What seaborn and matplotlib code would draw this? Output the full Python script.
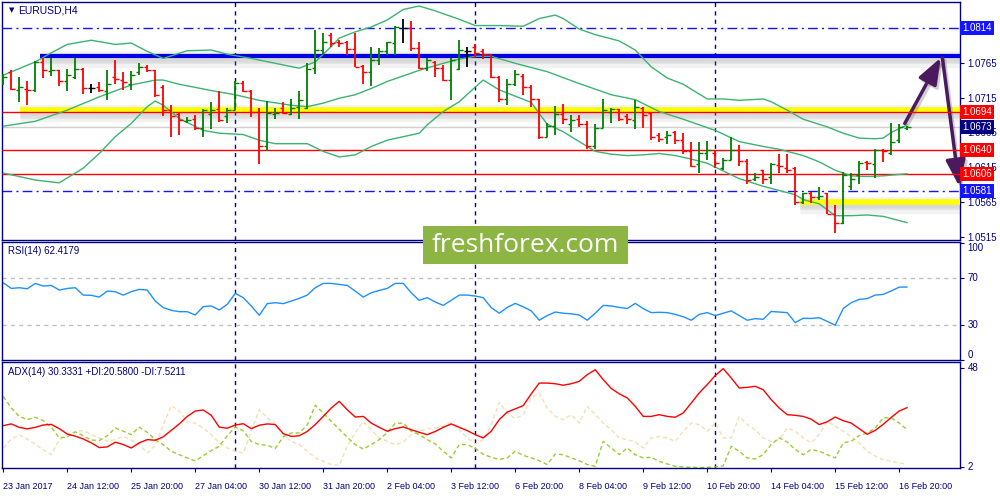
import numpy as np
import matplotlib
matplotlib.use("Agg")
import matplotlib.pyplot as plt
import matplotlib.patheffects as pe
import matplotlib.transforms as mtransforms
from matplotlib.patches import Rectangle
import seaborn as sns

sns.set_theme(style="white")
plt.rcParams['font.family'] = ['Liberation Sans', 'DejaVu Sans']

NAVY = '#000080'

# ---- EURUSD H4 bars (open / high / low / close) ----
opens = [1.0738, 1.0752, 1.0726, 1.0727, 1.0726, 1.0766, 1.0753, 1.0754, 1.0739, 1.0745,
         1.0756, 1.0728, 1.0730, 1.0725, 1.0745, 1.0740, 1.0735, 1.0752, 1.0759, 1.0754,
         1.0730, 1.0697, 1.0692, 1.0681, 1.0685, 1.0671, 1.0692, 1.0699, 1.0688, 1.0697,
         1.0736, 1.0725, 1.0695, 1.0645, 1.0691, 1.0700, 1.0691, 1.0702, 1.0700, 1.0757,
         1.0783, 1.0805, 1.0795, 1.0795, 1.0784, 1.0760, 1.0751, 1.0769, 1.0781, 1.0793,
         1.0814, 1.0814, 1.0786, 1.0757, 1.0766, 1.0757, 1.0740, 1.0756, 1.0781, 1.0788,
         1.0781, 1.0777, 1.0745, 1.0713, 1.0735, 1.0746, 1.0730, 1.0713, 1.0659, 1.0675,
         1.0692, 1.0677, 1.0685, 1.0677, 1.0645, 1.0671, 1.0695, 1.0698, 1.0688, 1.0683,
         1.0700, 1.0693, 1.0661, 1.0659, 1.0665, 1.0654, 1.0638, 1.0620, 1.0635, 1.0635,
         1.0614, 1.0626, 1.0640, 1.0624, 1.0598, 1.0611, 1.0602, 1.0618, 1.0614, 1.0614,
         1.0565, 1.0579, 1.0573, 1.0578, 1.0548, 1.0535, 1.0588, 1.0604, 1.0623, 1.0620,
         1.0640, 1.0635, 1.0654, 1.0672]
highs = [1.0749, 1.0754, 1.0744, 1.0739, 1.0768, 1.0771, 1.0771, 1.0755, 1.0756, 1.0772,
         1.0757, 1.0734, 1.0737, 1.0754, 1.0769, 1.0752, 1.0753, 1.0765, 1.0762, 1.0755,
         1.0733, 1.0704, 1.0695, 1.0687, 1.0690, 1.0699, 1.0709, 1.0725, 1.0700, 1.0738,
         1.0739, 1.0726, 1.0700, 1.0710, 1.0700, 1.0708, 1.0713, 1.0725, 1.0765, 1.0812,
         1.0808, 1.0807, 1.0798, 1.0796, 1.0807, 1.0762, 1.0788, 1.0786, 1.0794, 1.0818,
         1.0827, 1.0824, 1.0795, 1.0771, 1.0767, 1.0762, 1.0771, 1.0797, 1.0788, 1.0791,
         1.0784, 1.0778, 1.0746, 1.0742, 1.0754, 1.0749, 1.0733, 1.0713, 1.0678, 1.0703,
         1.0706, 1.0690, 1.0690, 1.0681, 1.0677, 1.0713, 1.0700, 1.0698, 1.0692, 1.0711,
         1.0702, 1.0693, 1.0664, 1.0667, 1.0667, 1.0664, 1.0651, 1.0652, 1.0653, 1.0638,
         1.0629, 1.0659, 1.0647, 1.0627, 1.0607, 1.0611, 1.0622, 1.0634, 1.0634, 1.0616,
         1.0579, 1.0580, 1.0587, 1.0579, 1.0561, 1.0608, 1.0607, 1.0624, 1.0624, 1.0641,
         1.0641, 1.0679, 1.0677, 1.0675]
lows = [1.0733, 1.0726, 1.0708, 1.0705, 1.0723, 1.0743, 1.0746, 1.0732, 1.0725, 1.0742,
        1.0720, 1.0721, 1.0723, 1.0711, 1.0735, 1.0726, 1.0726, 1.0747, 1.0752, 1.0716,
        1.0688, 1.0658, 1.0661, 1.0678, 1.0669, 1.0658, 1.0670, 1.0680, 1.0678, 1.0697,
        1.0723, 1.0687, 1.0620, 1.0639, 1.0684, 1.0692, 1.0690, 1.0684, 1.0698, 1.0749,
        1.0776, 1.0788, 1.0788, 1.0776, 1.0758, 1.0735, 1.0731, 1.0761, 1.0776, 1.0776,
        1.0793, 1.0782, 1.0756, 1.0753, 1.0744, 1.0738, 1.0712, 1.0754, 1.0758, 1.0771,
        1.0770, 1.0743, 1.0708, 1.0705, 1.0731, 1.0719, 1.0701, 1.0655, 1.0658, 1.0662,
        1.0677, 1.0666, 1.0673, 1.0642, 1.0642, 1.0671, 1.0678, 1.0682, 1.0677, 1.0670,
        1.0672, 1.0654, 1.0652, 1.0649, 1.0649, 1.0634, 1.0615, 1.0607, 1.0625, 1.0614,
        1.0611, 1.0626, 1.0617, 1.0592, 1.0596, 1.0592, 1.0591, 1.0607, 1.0607, 1.0561,
        1.0563, 1.0564, 1.0568, 1.0549, 1.0521, 1.0534, 1.0583, 1.0592, 1.0611, 1.0600,
        1.0623, 1.0633, 1.0650, 1.0669]
closes = [1.0745, 1.0727, 1.0730, 1.0726, 1.0766, 1.0754, 1.0755, 1.0739, 1.0747, 1.0756,
          1.0728, 1.0728, 1.0726, 1.0735, 1.0742, 1.0737, 1.0747, 1.0758, 1.0754, 1.0719,
          1.0697, 1.0688, 1.0683, 1.0683, 1.0671, 1.0697, 1.0697, 1.0683, 1.0697, 1.0736,
          1.0725, 1.0695, 1.0646, 1.0693, 1.0693, 1.0693, 1.0700, 1.0712, 1.0756, 1.0783,
          1.0795, 1.0793, 1.0793, 1.0784, 1.0759, 1.0751, 1.0769, 1.0781, 1.0794, 1.0816,
          1.0814, 1.0786, 1.0757, 1.0769, 1.0757, 1.0740, 1.0769, 1.0783, 1.0781, 1.0779,
          1.0778, 1.0745, 1.0713, 1.0735, 1.0749, 1.0730, 1.0713, 1.0659, 1.0675, 1.0691,
          1.0684, 1.0683, 1.0677, 1.0645, 1.0671, 1.0697, 1.0698, 1.0685, 1.0684, 1.0702,
          1.0690, 1.0658, 1.0655, 1.0661, 1.0654, 1.0638, 1.0617, 1.0635, 1.0640, 1.0621,
          1.0626, 1.0640, 1.0624, 1.0597, 1.0601, 1.0598, 1.0620, 1.0617, 1.0612, 1.0566,
          1.0578, 1.0573, 1.0574, 1.0549, 1.0535, 1.0604, 1.0599, 1.0621, 1.0621, 1.0640,
          1.0639, 1.0652, 1.0673, 1.0673]

# ---- Bollinger bands (read at sample bars) ----
upper_idx = [0, 4, 6, 8, 11, 14, 16, 18, 20, 23, 26, 28, 31, 34, 37, 39, 41, 42, 44, 46,
             48, 50, 52, 54, 57, 59, 62, 65, 67, 69, 70, 72, 74, 77, 79, 81, 83, 85, 88, 90,
             92, 95, 96, 98, 100, 103, 105, 107, 109, 110, 111, 113]
upper_vals = [1.0747, 1.0766, 1.0779, 1.0791, 1.0797, 1.0791, 1.0793, 1.0781, 1.0771, 1.0782,
              1.0783, 1.0777, 1.0771, 1.0764, 1.0757, 1.0766, 1.0788, 1.0800, 1.0809, 1.0816,
              1.0826, 1.0841, 1.0846, 1.0839, 1.0827, 1.0818, 1.0818, 1.0817, 1.0828, 1.0833,
              1.0828, 1.0813, 1.0805, 1.0796, 1.0783, 1.0759, 1.0743, 1.0734, 1.0713, 1.0713,
              1.0711, 1.0713, 1.0709, 1.0697, 1.0684, 1.0673, 1.0664, 1.0657, 1.0656, 1.0657,
              1.0665, 1.0676]
middle_idx = [0, 4, 8, 12, 16, 19, 20, 22, 26, 29, 32, 36, 38, 40, 42, 44, 46, 48, 50, 52,
              55, 57, 59, 61, 64, 68, 72, 76, 79, 82, 85, 89, 92, 95, 97, 100, 102, 104, 106, 108,
              110, 113]
middle_vals = [1.0674, 1.0681, 1.0697, 1.0716, 1.0733, 1.0740, 1.0740, 1.0734, 1.0725, 1.0719,
               1.0711, 1.0704, 1.0702, 1.0707, 1.0714, 1.0719, 1.0728, 1.0738, 1.0746, 1.0754,
               1.0764, 1.0770, 1.0774, 1.0774, 1.0764, 1.0752, 1.0735, 1.0719, 1.0712, 1.0695,
               1.0684, 1.0668, 1.0652, 1.0645, 1.0641, 1.0632, 1.0623, 1.0611, 1.0603, 1.0602,
               1.0603, 1.0606]
lower_idx = [0, 4, 7, 8, 10, 12, 14, 16, 18, 19, 20, 22, 25, 27, 30, 32, 34, 38, 40, 42,
             44, 46, 48, 50, 52, 53, 55, 57, 59, 60, 62, 64, 66, 67, 68, 70, 72, 74, 76, 78,
             80, 82, 84, 86, 88, 90, 92, 95, 97, 99, 100, 102, 104, 106, 108, 110, 113]
lower_vals = [1.0607, 1.0597, 1.0593, 1.0600, 1.0614, 1.0635, 1.0659, 1.0678, 1.0702, 1.0710,
              1.0704, 1.0685, 1.0668, 1.0664, 1.0662, 1.0654, 1.0649, 1.0649, 1.0638, 1.0630,
              1.0633, 1.0645, 1.0654, 1.0659, 1.0664, 1.0676, 1.0695, 1.0709, 1.0730, 1.0740,
              1.0726, 1.0717, 1.0708, 1.0692, 1.0677, 1.0666, 1.0652, 1.0638, 1.0634, 1.0632,
              1.0633, 1.0635, 1.0632, 1.0627, 1.0621, 1.0610, 1.0599, 1.0588, 1.0582, 1.0576,
              1.0569, 1.0563, 1.0546, 1.0546, 1.0547, 1.0545, 1.0536]

# ---- RSI(14) ----
rsi = [66.0, 61.2, 61.8, 60.9, 65.5, 63.2, 63.8, 59.8, 61.2, 61.8, 55.5, 55.3, 53.8, 58.9, 58.4,
       55.5, 58.4, 60.4, 59.8, 50.4, 44.8, 42.5, 41.3, 41.3, 38.5, 45.6, 46.2, 42.8, 47.6, 57.0,
       53.3, 46.2, 38.2, 48.2, 49.0, 48.2, 50.4, 52.7, 55.5, 61.8, 65.5, 65.5, 64.6, 63.8, 58.9,
       53.8, 57.5, 59.5, 61.2, 65.5, 65.5, 57.5, 51.0, 53.3, 49.6, 46.7, 51.0, 55.5, 55.5, 54.7,
       53.3, 44.8, 40.0, 45.0, 48.4, 45.5, 42.0, 34.0, 38.0, 41.0, 40.0, 39.5, 38.5, 34.0, 40.0,
       46.7, 46.2, 45.0, 44.0, 48.4, 44.0, 40.5, 40.8, 40.5, 39.0, 37.0, 34.0, 39.0, 40.5, 38.0,
       40.0, 42.0, 38.0, 34.0, 35.4, 34.8, 41.5, 41.0, 40.5, 32.0, 35.7, 35.5, 36.2, 33.0, 29.7,
       44.0, 49.0, 51.8, 52.5, 55.5, 56.1, 59.0, 62.3, 62.4]

# ---- ADX(14), +DI, -DI ----
adx = [21.2, 22.0, 20.4, 19.7, 20.4, 21.5, 21.8, 19.8, 17.3, 16.3, 15.0, 13.2, 11.0, 11.3, 13.5,
       12.4, 10.8, 13.2, 14.7, 14.4, 16.0, 19.0, 22.0, 25.5, 28.0, 28.5, 26.0, 20.5, 20.0, 21.5,
       22.1, 19.8, 21.4, 22.0, 21.7, 17.5, 16.2, 16.5, 18.5, 21.7, 25.5, 29.4, 32.5, 28.6, 25.2,
       25.5, 22.4, 20.4, 18.6, 19.8, 20.6, 19.3, 18.1, 17.0, 18.5, 20.4, 22.0, 20.4, 18.9, 17.0,
       15.5, 18.6, 24.0, 27.5, 29.0, 30.5, 36.0, 41.0, 41.0, 40.7, 40.0, 40.7, 41.8, 44.9, 47.2,
       42.6, 38.5, 36.0, 34.1, 30.2, 25.5, 25.5, 26.3, 25.5, 25.1, 27.1, 31.7, 36.4, 40.3, 44.5,
       47.7, 43.4, 38.7, 39.0, 39.5, 37.9, 33.3, 29.4, 26.3, 26.0, 25.5, 24.2, 21.7, 23.0, 25.2,
       23.5, 22.4, 19.8, 17.2, 19.0, 21.8, 25.0, 28.0, 29.6]
plus_di = [34.8, 29.4, 25.5, 24.0, 25.1, 23.5, 20.5, 15.5, 16.0, 18.3, 16.5, 14.5, 14.3, 16.5, 20.1,
           18.6, 17.0, 20.5, 18.1, 14.7, 12.4, 9.3, 7.7, 6.2, 4.8, 7.2, 9.6, 11.6, 16.5, 20.5,
           18.8, 13.8, 12.4, 12.1, 10.6, 16.0, 17.8, 17.8, 21.5, 30.7, 27.1, 23.2, 19.5, 15.8, 12.4,
           10.3, 12.4, 14.7, 18.0, 22.3, 22.4, 18.6, 17.0, 14.7, 12.7, 9.3, 6.2, 12.4, 12.4, 10.6,
           7.9, 6.5, 5.5, 6.2, 9.3, 7.4, 6.2, 4.9, 3.1, 8.0, 7.7, 6.2, 4.9, 3.1, 2.3,
           13.9, 10.8, 7.7, 10.8, 7.7, 6.2, 6.5, 4.6, 3.4, 2.3, 2.0, 1.8, 1.7, 1.8, 2.0,
           2.5, 11.6, 9.3, 6.2, 5.7, 7.7, 12.4, 15.5, 13.6, 10.1, 7.7, 10.1, 9.3, 7.7, 6.2,
           13.2, 13.9, 16.6, 17.8, 20.1, 24.8, 24.8, 22.4, 19.3]
minus_di = [10.8, 15.0, 16.8, 15.0, 12.5, 10.0, 7.7, 14.7, 17.0, 18.5, 18.9, 17.0, 15.5, 13.9, 14.7,
            16.2, 14.5, 12.4, 8.5, 12.0, 21.5, 30.5, 28.0, 22.8, 22.4, 20.1, 17.0, 13.2, 10.8, 9.3,
            8.5, 18.6, 28.6, 24.8, 21.7, 17.0, 13.9, 12.4, 9.3, 6.2, 4.6, 3.1, 2.8, 11.6, 18.0,
            23.2, 19.3, 15.5, 13.9, 12.4, 13.6, 17.0, 18.6, 19.8, 20.1, 20.9, 22.8, 19.3, 15.5, 12.7,
            14.7, 21.7, 32.0, 27.1, 24.5, 26.3, 34.1, 36.4, 29.4, 25.5, 24.0, 26.3, 22.4, 30.2, 26.3,
            22.4, 19.3, 15.5, 14.7, 13.6, 10.8, 15.5, 16.2, 15.5, 13.9, 18.6, 22.4, 21.7, 18.6, 22.4,
            15.5, 15.5, 25.5, 21.7, 19.3, 15.5, 13.9, 14.7, 20.1, 18.6, 15.5, 13.2, 17.0, 23.2, 20.9,
            18.6, 16.2, 13.2, 9.3, 7.0, 5.4, 4.6, 3.9, 3.1]

# ---- levels, separators, axis labels ----
resistance_blue = 1.0775
zone_yellow_top = 1.0697
zone_yellow_low = 1.0566
red_levels = [1.0694, 1.0640, 1.0606]
dashdot_levels = [1.0814, 1.0581]
last_price = 1.0673
level_boxes = [(1.0814, '#1414FF'), (1.0694, '#FF0000'), (1.0673, NAVY),
               (1.0640, '#FF0000'), (1.0606, '#FF0000'), (1.0581, '#1414FF')]
price_ticks = [1.0765, 1.0715, 1.0665, 1.0615, 1.0565, 1.0515]
week_starts = [29, 59, 89]
time_labels = ['23 Jan 2017', '24 Jan 12:00', '25 Jan 20:00', '27 Jan 04:00', '30 Jan 12:00',
               '31 Jan 20:00', '2 Feb 04:00', '3 Feb 12:00', '6 Feb 20:00', '8 Feb 04:00',
               '9 Feb 12:00', '10 Feb 20:00', '14 Feb 04:00', '15 Feb 12:00', '16 Feb 20:00']
time_label_pos = list(range(0, 8 * len(time_labels), 8))

bars = np.arange(len(closes))
XLIM = (-0.16, 119.6)

fig = plt.figure(figsize=(10, 5), dpi=100)
ax_p = fig.add_axes([0.002, 0.52, 0.958, 0.476])
ax_r = fig.add_axes([0.002, 0.28, 0.958, 0.236])
ax_a = fig.add_axes([0.002, 0.064, 0.958, 0.212])

for ax in (ax_p, ax_r, ax_a):
    ax.set_xlim(*XLIM)
    ax.set_facecolor('white')
    for s in ax.spines.values():
        s.set_color(NAVY)
        s.set_linewidth(1)
    for w in week_starts:
        ax.axvline(w, color=NAVY, lw=1, ls=(0, (3, 3)), zorder=1)
    ax.yaxis.tick_right()
    ax.tick_params(axis='y', colors=NAVY, labelsize=7, length=3, width=0.8, pad=2,
                   direction='out', right=True, left=False)
    ax.set_xlabel('')
    ax.set_ylabel('')

# ---- price panel ----
ax_p.set_ylim(1.05112, 1.08517)
# soft grey shadow under the drawn levels
shadow = [pe.SimpleLineShadow(offset=(0, -3), shadow_color='0.5', alpha=0.10, linewidth=11),
          pe.SimpleLineShadow(offset=(0, -2.5), shadow_color='0.5', alpha=0.14, linewidth=7),
          pe.SimpleLineShadow(offset=(0, 0), shadow_color='0.6', alpha=0.10, linewidth=8),
          pe.Normal()]
ax_p.hlines(dashdot_levels, XLIM[0], XLIM[1], colors='#1414FF', lw=1,
            linestyles=[(0, (7, 3, 1.5, 3))], zorder=2)
ax_p.axhline(last_price, color='#CFCFCF', lw=1, zorder=2)
ax_p.plot([4.6, XLIM[1]], [resistance_blue] * 2, color='#0000E6', lw=3.0,
          solid_capstyle='butt', path_effects=shadow, zorder=3)
ax_p.plot([2.1, XLIM[1]], [zone_yellow_top] * 2, color='#FFFF00', lw=4,
          solid_capstyle='butt', path_effects=shadow, zorder=3)
ax_p.plot([99.6, XLIM[1]], [zone_yellow_low] * 2, color='#FFFF00', lw=4,
          solid_capstyle='butt', path_effects=shadow, zorder=3)
ax_p.hlines(red_levels, XLIM[0], XLIM[1], colors='#FF0000', lw=1, zorder=4)

for idx, vals in ((upper_idx, upper_vals), (middle_idx, middle_vals), (lower_idx, lower_vals)):
    sns.lineplot(x=idx, y=vals, ax=ax_p, color='#3CB371', lw=1, zorder=5)

bar_colors = ['#008000' if c > o else ('#FF0000' if c < o else 'black')
              for o, c in zip(opens, closes)]
ax_p.vlines(bars, lows, highs, colors=bar_colors, lw=1.3, zorder=6)
ax_p.hlines(opens, bars - 0.45, bars, colors=bar_colors, lw=1.0, zorder=6)
ax_p.hlines(closes, bars, bars + 0.45, colors=bar_colors, lw=1.0, zorder=6)

ax_p.set_xticks([])
ax_p.set_yticks(price_ticks)
ax_p.set_yticklabels([f'{t:.4f}' for t in price_ticks])
ax_p.set_xlabel('')
ax_p.set_ylabel('')

trans_p = mtransforms.blended_transform_factory(ax_p.transAxes, ax_p.transData)
for val, col in level_boxes:
    ax_p.text(1.0025, val, f'{val:.4f}', transform=trans_p, ha='left', va='center',
              color='white', fontsize=7, clip_on=False, zorder=20,
              bbox=dict(boxstyle='square,pad=0.22', fc=col, ec='none'))

ax_p.text(0.0075, 0.966, '\u25bc', transform=ax_p.transAxes, fontsize=5, color=NAVY,
          ha='left', va='center', family='DejaVu Sans')
ax_p.text(0.0167, 0.966, 'EURUSD,H4', transform=ax_p.transAxes, fontsize=7.5, color=NAVY,
          ha='left', va='center')

arrow_col = '#4B1A5E'
arrow_fx = [pe.SimpleLineShadow(offset=(1.5, -2), shadow_color='0.4', alpha=0.3), pe.Normal()]
ax_p.annotate('', xy=(117.2, 1.0772), xytext=(112.7, 1.0678), annotation_clip=False,
              arrowprops=dict(arrowstyle='-|>,head_length=1.6,head_width=0.6', color=arrow_col,
                              lw=2.5, shrinkA=0, shrinkB=0, mutation_scale=10,
                              path_effects=arrow_fx))
ax_p.annotate('', xy=(119.5, 1.0588), xytext=(117.4, 1.0772), annotation_clip=False,
              arrowprops=dict(arrowstyle='-|>,head_length=1.6,head_width=0.6', color=arrow_col,
                              lw=2.5, shrinkA=0, shrinkB=0, mutation_scale=10,
                              path_effects=arrow_fx))

# ---- RSI panel ----
ax_r.set_ylim(0.5, 100.9)
ax_r.axhline(70, color='#C0C0C0', lw=1, ls=(0, (3, 3)))
ax_r.axhline(30, color='#C0C0C0', lw=1, ls=(0, (3, 3)))
sns.lineplot(x=bars, y=rsi, ax=ax_r, color='#1E90FF', lw=1)
ax_r.set_xticks([])
ax_r.set_yticks([100, 70, 30, 0])
ax_r.set_yticklabels([])
trans_r = mtransforms.blended_transform_factory(ax_r.transAxes, ax_r.transData)
for val, va in ((100, 'top'), (70, 'center'), (30, 'center'), (0, 'bottom')):
    ax_r.text(1.008, val, str(val), transform=trans_r, ha='left', va=va,
              color=NAVY, fontsize=7, clip_on=False)
ax_r.text(0.006, 0.924, 'RSI(14) 62.4179', transform=ax_r.transAxes, fontsize=7,
          color=NAVY, ha='left', va='center')
ax_r.set_xlabel('')
ax_r.set_ylabel('')

# ---- ADX panel ----
ax_a.set_ylim(1.5, 50.8)
sns.lineplot(x=bars, y=minus_di, ax=ax_a, color='#F5DEB3', lw=1, linestyle=(0, (3, 2)))
sns.lineplot(x=bars, y=plus_di, ax=ax_a, color='#9ACD32', lw=1, linestyle=(0, (3, 2)))
sns.lineplot(x=bars, y=adx, ax=ax_a, color='#FF0000', lw=1)
ax_a.set_yticks([48, 2])
ax_a.set_yticklabels([])
trans_a = mtransforms.blended_transform_factory(ax_a.transAxes, ax_a.transData)
for val in (48, 2):
    ax_a.text(1.008, val, str(val), transform=trans_a, ha='left', va='center',
              color=NAVY, fontsize=7, clip_on=False)
ax_a.text(0.006, 0.906, 'ADX(14) 30.3331 +DI:20.5800 -DI:7.5211', transform=ax_a.transAxes,
          fontsize=7, color=NAVY, ha='left', va='center')
ax_a.set_xticks(time_label_pos)
ax_a.set_xticklabels(time_labels, ha='left', fontsize=6.5, color=NAVY)
ax_a.tick_params(axis='x', colors=NAVY, length=3, width=0.8, pad=7, direction='out',
                 bottom=True)
ax_a.set_xlabel('')
ax_a.set_ylabel('')

# ---- watermark ----
fig.add_artist(Rectangle((0.423, 0.472), 0.205, 0.076, transform=fig.transFigure,
                         facecolor='#8DB543', edgecolor='none', zorder=30))
fig.text(0.5255, 0.510, 'freshforex.com', color='white', fontsize=19, ha='center',
         va='center', family=['Open Sans', 'DejaVu Sans'], zorder=31)

fig.savefig('out.png', dpi=100, facecolor='white')
